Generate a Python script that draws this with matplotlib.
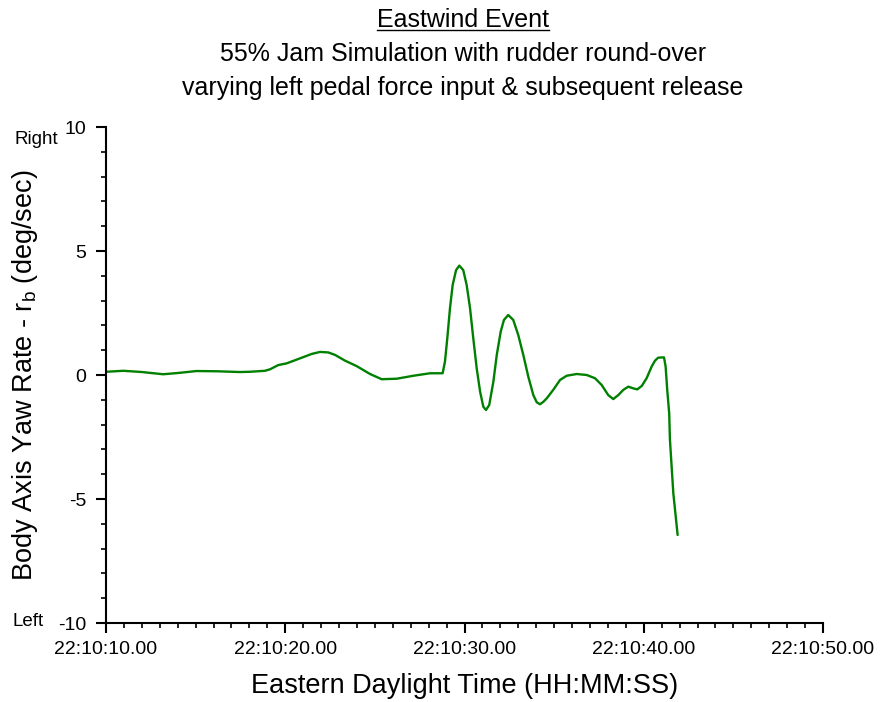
import matplotlib
matplotlib.use("Agg")
import matplotlib.pyplot as plt
from matplotlib.ticker import MultipleLocator, FixedLocator
from matplotlib.lines import Line2D

plt.rcParams['font.family'] = ['Liberation Sans', 'DejaVu Sans']

# Seconds past 22:10:00 (Eastern Daylight Time) and body-axis yaw rate (deg/sec)
time_s = [10.0, 10.97, 12.0, 13.19, 14.0, 15.05, 16.2, 17.47, 18.03, 18.87, 19.15, 19.61,
          20.08, 20.82, 21.48, 21.94, 22.4, 22.78, 23.33, 23.98, 24.73, 25.38, 26.22, 27.15,
          28.08, 28.78, 28.91, 29.04, 29.19, 29.34, 29.53, 29.71, 29.93, 30.12, 30.31,
          30.49, 30.68, 30.87, 31.05, 31.2, 31.38, 31.61, 31.8, 32.02, 32.2, 32.44,
          32.72, 33.0, 33.28, 33.56, 33.84, 34.03, 34.21, 34.4, 34.59, 34.95, 35.33,
          35.7, 36.26, 36.82, 37.28, 37.65, 38.02, 38.3, 38.58, 38.86, 39.14, 39.42,
          39.64, 39.89, 40.16, 40.44, 40.63, 40.81, 41.13, 41.22, 41.31, 41.42, 41.46,
          41.55, 41.65, 41.89]
yaw_rate = [0.13, 0.17, 0.12, 0.03, 0.08, 0.16, 0.15, 0.12, 0.13, 0.17, 0.23, 0.4,
            0.47, 0.67, 0.85, 0.93, 0.91, 0.81, 0.58, 0.36, 0.04, -0.17, -0.15, -0.03,
            0.07, 0.07, 0.54, 1.48, 2.69, 3.63, 4.23, 4.41, 4.23, 3.63, 2.69,
            1.48, 0.27, -0.67, -1.28, -1.41, -1.21, -0.27, 0.81, 1.75, 2.22, 2.42,
            2.22, 1.61, 0.81, -0.07, -0.81, -1.1, -1.18, -1.08, -0.94, -0.6, -0.2,
            -0.03, 0.04, 0.0, -0.13, -0.4, -0.81, -0.97, -0.81, -0.6, -0.47, -0.54,
            -0.58, -0.44, -0.13, 0.34, 0.58, 0.7, 0.71, 0.34, -0.6, -1.55, -2.6,
            -3.63, -4.77, -6.45]

x_ticks = [10, 20, 30, 40, 50]
x_tick_labels = ['22:10:10.00', '22:10:20.00', '22:10:30.00', '22:10:40.00', '22:10:50.00']
y_ticks = [-10, -5, 0, 5, 10]

fig = plt.figure(figsize=(8.8, 7.02), dpi=100)
ax = fig.add_axes([106 / 880, 79 / 702, 717 / 880, 496 / 702])

ax.plot(time_s, yaw_rate, color='#008000', lw=1.7, solid_joinstyle='round',
        solid_capstyle='round')

ax.set_xlim(10, 50)
ax.set_ylim(-10, 10)
ax.xaxis.set_major_locator(FixedLocator(x_ticks))
ax.set_xticklabels(x_tick_labels)
ax.xaxis.set_minor_locator(MultipleLocator(1))
ax.yaxis.set_major_locator(FixedLocator(y_ticks))
ax.set_yticklabels([str(v) for v in y_ticks])
ax.yaxis.set_minor_locator(MultipleLocator(1))

for side in ('top', 'right'):
    ax.spines[side].set_visible(False)
for side in ('left', 'bottom'):
    ax.spines[side].set_linewidth(1.5)

ax.tick_params(which='major', direction='out', length=7, width=1.5, labelsize=14)
ax.tick_params(axis='y', which='major', pad=7)
ax.tick_params(axis='x', which='major', pad=6)
ax.tick_params(which='minor', direction='out', length=3.6, width=1.2)

ax.set_xlabel('Eastern Daylight Time (HH:MM:SS)', fontsize=19.5)
ax.xaxis.label.set_va('center')
ax.xaxis.set_label_coords(0.5, -63 / 496)
ax.set_ylabel(r'Body Axis Yaw Rate - r$_\mathregular{b}$ (deg/sec)', fontsize=19.5)
ax.yaxis.label.set_va('center')
ax.yaxis.set_label_coords(-81 / 717, 0.5)

# Direction hints next to the y-axis extremes
fig.text(14 / 880, 1 - 140 / 702, 'Right', fontsize=13.5, ha='left', va='center')
fig.text(12 / 880, 1 - 622 / 702, 'Left', fontsize=13.5, ha='left', va='center')

# Titles
cx = 463 / 880
t1 = fig.text(cx, 1 - 20 / 702, 'Eastwind Event', fontsize=18, ha='center', va='center')
fig.text(cx, 1 - 54 / 702, '55% Jam Simulation with rudder round-over', fontsize=18,
         ha='center', va='center')
fig.text(cx, 1 - 88 / 702, 'varying left pedal force input & subsequent release', fontsize=18,
         ha='center', va='center')

# Underline the first title line
fig.canvas.draw()
bb = t1.get_window_extent().transformed(fig.transFigure.inverted())
fig.add_artist(Line2D([bb.x0, bb.x1], [bb.y0 + 0.003, bb.y0 + 0.003],
                      transform=fig.transFigure, color='black', lw=1.0))

fig.savefig('out.png', dpi=100)
